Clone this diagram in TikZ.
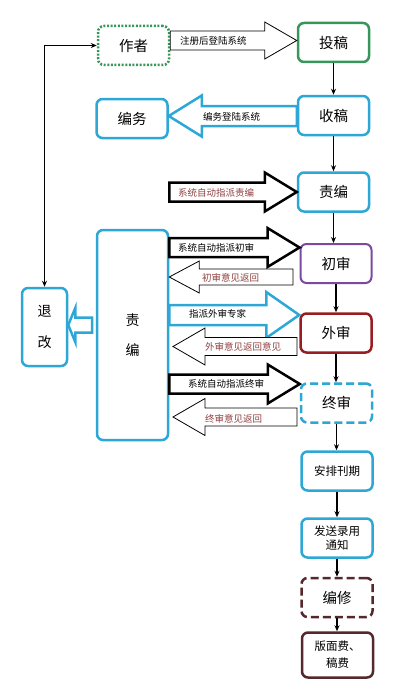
\documentclass[tikz,border=0pt]{standalone}
\usepackage{fontspec}
\newfontfamily\cjk{Noto Sans CJK SC}
\usetikzlibrary{arrows.meta,calc}

\definecolor{boxblue}{RGB}{45,168,214}
\definecolor{boxgreen}{RGB}{55,150,90}
\definecolor{boxpurple}{RGB}{120,75,160}
\definecolor{boxred}{RGB}{150,30,35}
\definecolor{boxbrown}{RGB}{85,40,45}
\definecolor{boxmauve}{RGB}{115,95,135}
\definecolor{boxyellow}{RGB}{240,200,90}
\definecolor{labred}{RGB}{145,65,65}

% block arrows: style, tail, tip, shaft half, head half, head length
\newcommand\rblock[6]{%
  \path (#2) coordinate (bt) (#3) coordinate (bh);
  \draw[#1] ($(bt)+(0,-#4)$) -- ($(bh)+(-#6,-#4)$) -- ($(bh)+(-#6,-#5)$) -- (bh)
    -- ($(bh)+(-#6,#5)$) -- ($(bh)+(-#6,#4)$) -- ($(bt)+(0,#4)$) -- cycle;}
\newcommand\lblock[6]{%
  \path (#2) coordinate (bt) (#3) coordinate (bh);
  \draw[#1] ($(bt)+(0,-#4)$) -- ($(bh)+(#6,-#4)$) -- ($(bh)+(#6,-#5)$) -- (bh)
    -- ($(bh)+(#6,#5)$) -- ($(bh)+(#6,#4)$) -- ($(bt)+(0,#4)$) -- cycle;}

\tikzset{
  box/.style={rounded corners=6pt, minimum width=71pt, minimum height=39pt,
    line width=2.5pt, fill=white, align=center, inner sep=1pt,
    font=\cjk\fontsize{14.5}{17}\selectfont},
  bluebox/.style={box, draw=boxblue},
  smalltext/.style={font=\cjk\fontsize{11.5}{14}\selectfont},
  lab/.style={anchor=west, inner sep=0pt, font=\cjk\fontsize{9.5}{11}\selectfont},
  thinarrow/.style={draw=black, fill=white, line width=0.8pt},
  fatarrow/.style={draw=black, fill=white, line width=2.5pt, line join=miter},
  bluearrow/.style={draw=boxblue, fill=white, line width=2.5pt},
  flow/.style={-{Stealth[length=6pt,width=5pt]}, line width=1.1pt},
}

\begin{document}
\begin{tikzpicture}[x=1pt, y=-1pt]
  \useasboundingbox (0,0) rectangle (411,693);

  % boxes
  \node[box, draw=boxgreen, dash pattern=on 2pt off 1.6pt] (zuozhe) at (133.5,45.5) {作者};
  \node[box, draw=boxgreen] (tougao) at (333.5,42.5) {投稿};
  \node[bluebox] (shougao) at (333.5,115.5) {收稿};
  \node[bluebox] (bianwu) at (132,118.5) {编务};
  \node[bluebox] (zebian) at (333.5,192) {责编};
  \node[box, draw=boxpurple, line width=2pt] (chushen) at (336,263.5) {初审};
  \node[bluebox, minimum height=210pt, font=\cjk\fontsize{14}{30}\selectfont] (zebianB) at (132.5,335) {责\\编};
  \node[box, draw=boxred] (waishen) at (336,333) {外审};
  \node[box, draw=boxblue, dash pattern=on 8pt off 4pt,
        preaction={draw=boxmauve, line width=1.2pt}] (zhongshen) at (336.5,403) {终审};
  \node[bluebox, smalltext] (anpai) at (337,471) {安排刊期};
  \node[bluebox, smalltext] (fasong) at (337,538) {发送录用\\通知};
  \node[box, draw=boxbrown, dash pattern=on 8pt off 4pt,
        preaction={draw=boxyellow, line width=1.2pt}] (bianxiu) at (337,597.5) {编修};
  \node[box, draw=boxbrown, smalltext, minimum height=45pt,
        font=\cjk\fontsize{11.5}{17}\selectfont] (banmian) at (337.5,655) {版面费、\\稿费};
  \node[bluebox, minimum width=45pt, minimum height=78pt,
        font=\cjk\fontsize{14}{31}\selectfont] (tuigai) at (44.5,327) {退\\改};

  % main flow
  \draw[flow] (tougao.south) -- (tougao.south |- shougao.north);
  \draw[flow] (shougao.south) -- (shougao.south |- zebian.north);
  \draw[flow] (zebian.south) -- (zebian.south |- chushen.north);
  \draw[flow] (chushen.south) -- (chushen.south |- waishen.north);
  \draw[flow] (waishen.south) -- (waishen.south |- zhongshen.north);
  \draw[flow] (zhongshen.south) -- (zhongshen.south |- anpai.north);
  \draw[flow] (anpai.south) -- (anpai.south |- fasong.north);
  \draw[flow] (fasong.south) -- (fasong.south |- bianxiu.north);
  \draw[flow] (bianxiu.south) -- (bianxiu.south |- banmian.north);
  \draw[{Stealth[length=6pt,width=5pt]}-{Stealth[length=6pt,width=5pt]}, line width=1.1pt]
    (tuigai.north) |- (zuozhe.west);

  % block arrows
  \rblock{thinarrow}{zuozhe.east |- 0,40.5}{tougao.west |- 0,40.5}{9.5}{18.5}{32}
  \node[lab] (l1) at (180,41) {注册后登陆系统};
  \lblock{bluearrow}{shougao.west |- 0,116}{bianwu.east |- 0,116}{10}{20.5}{33}
  \node[lab] (l2) at (203,117) {编务登陆系统};
  \rblock{fatarrow}{zebianB.east |- 0,192}{zebian.west |- 0,192}{9.5}{19.5}{32}
  \node[lab, text=labred] (l3) at (178,193) {系统自动指派责编};
  \rblock{fatarrow}{zebianB.east |- 0,247.5}{chushen.west |- 0,247.5}{9.5}{19.5}{32}
  \node[lab] (l4) at (178,248) {系统自动指派初审};
  \lblock{thinarrow}{293,277}{zebianB.east |- 0,277}{8}{16}{30}
  \node[lab, text=labred] (l5) at (202,278) {初审意见返回};
  \rblock{bluearrow}{zebianB.east |- 0,315}{waishen.west |- 0,315}{10}{23}{33}
  \node[lab] (l6) at (189,314) {指派外审专家};
  \lblock{thinarrow}{297,346.5}{173,346.5}{9}{18.5}{32}
  \node[lab, text=labred] (l7) at (205,347) {外审意见返回意见};
  \rblock{fatarrow}{zebianB.east |- 0,384}{zhongshen.west |- 0,384}{9.5}{19.5}{32}
  \node[lab] (l8) at (188,384) {系统自动指派终审};
  \lblock{thinarrow}{297,417}{173,417}{9}{18.5}{32}
  \node[lab, text=labred] (l9) at (205,419) {终审意见返回};
  \lblock{bluearrow}{92,325}{tuigai.east |- 0,325}{7.5}{17}{7}
\end{tikzpicture}
\end{document}
